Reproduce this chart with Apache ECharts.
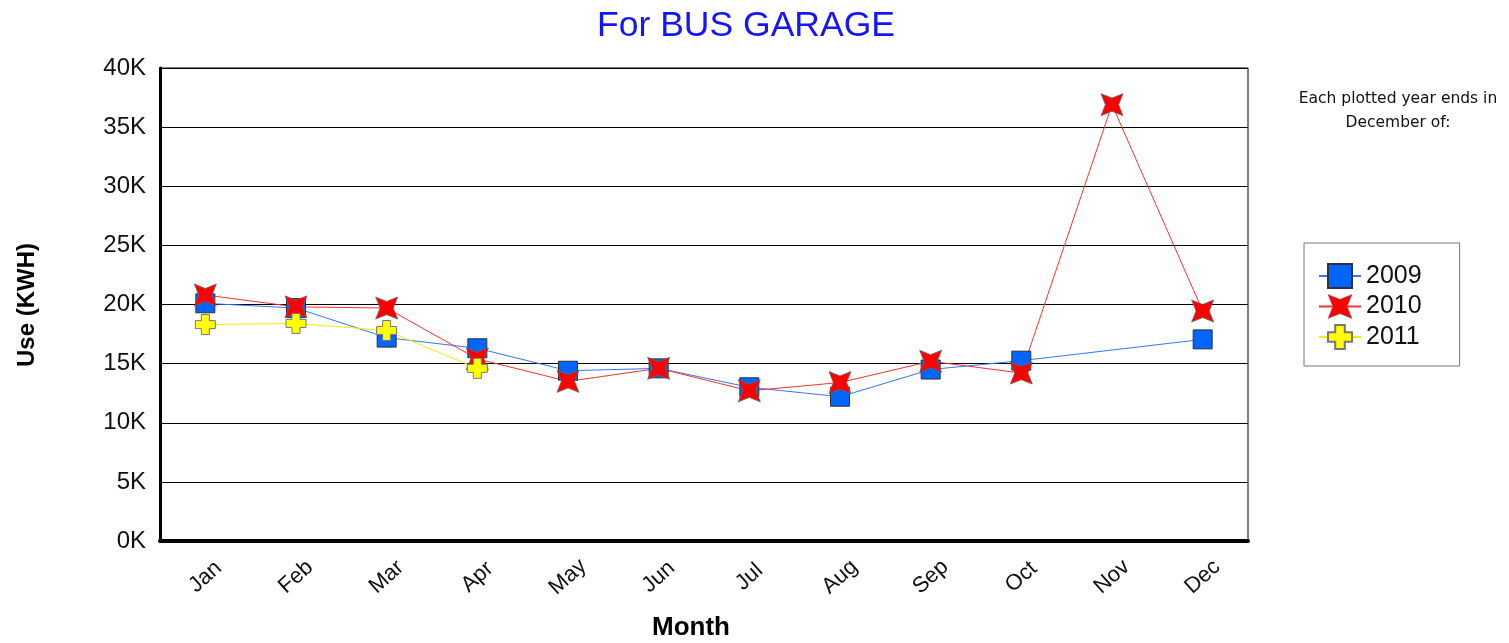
<!DOCTYPE html>
<html>
<head>
<meta charset="utf-8">
<script src="https://cdn.jsdelivr.net/npm/echarts@6/dist/echarts.min.js"></script>
<style>
html,body{margin:0;padding:0;background:#fff;}
#main{width:1509px;height:643px;}
</style>
</head>
<body>
<div id="main"></div>
<script>
var months = ['Jan','Feb','Mar','Apr','May','Jun','Jul','Aug','Sep','Oct','Nov','Dec'];
var yTicks = ['0K','5K','10K','15K','20K','25K','30K','35K','40K'];
var seriesNames = ['2009','2010','2011'];
var use2009 = [20100, 19700, 17200, 16300, 14400, 14600, 13000, 12200, 14500, 15250, null, 17050];
var use2010 = [20800, 19800, 19700, 15400, 13500, 14600, 12700, 13400, 15200, 14200, 36900, 19450];
var use2011 = [18300, 18400, 17800, 14600, null, null, null, null, null, null, null, null];

var STAR = 'path://M-10,-10 L0,-6 L10,-10 L6,0 L10,10 L0,6 L-10,10 L-6,0 Z';
var PLUS = 'path://M-4,-10 L4,-10 L4,-4 L10,-4 L10,4 L4,4 L4,10 L-4,10 L-4,4 L-10,4 L-10,-4 L-4,-4 Z';

var chart = echarts.init(document.getElementById('main'), null, {renderer:'canvas'});
var font = '"Liberation Sans", Arial, sans-serif';
chart.setOption({
  animation:false,
  backgroundColor:'#fff',
  title:{
    text:'For BUS GARAGE', left:741, top:3, textAlign:'center',
    textStyle:{color:'#1414ff', fontSize:35.5, fontWeight:'normal', fontFamily:font}
  },
  legend:{
    orient:'vertical', left:1304, top:243,
    padding:[20,38,16,14],
    borderColor:'#777', borderWidth:1,
    itemWidth:42, itemHeight:30, itemGap:5,
    textStyle:{fontSize:25, fontFamily:font, color:'#111'},
    data:[
      {name:seriesNames[0]},
      {name:seriesNames[1], itemStyle:{borderColor:'#777', borderWidth:0.6}},
      {name:seriesNames[2]}
    ]
  },
  grid:{left:160, right:261, top:68, bottom:102, show:true, borderColor:'#000', borderWidth:1},
  xAxis:{
    type:'category', data:months, boundaryGap:true,
    axisLine:{show:true, lineStyle:{color:'#000', width:4}},
    axisTick:{show:false},
    axisLabel:{rotate:42, align:'center', verticalAlign:'middle', margin:36, fontSize:22, fontFamily:font, color:'#111'},
    splitLine:{show:false}
  },
  yAxis:{
    type:'value', min:0, max:40000, interval:5000,
    axisLine:{show:true, lineStyle:{color:'#000', width:3}},
    axisTick:{show:false},
    axisLabel:{margin:14, fontSize:24, fontFamily:font, color:'#111',
      formatter:function(v){ return yTicks[Math.round(v/5000)]; }},
    splitLine:{show:true, lineStyle:{color:'#000', width:1}}
  },
  graphic:[
    {type:'text', x:27, y:305, rotation:Math.PI/2, style:{text:'Use (KWH)', fontSize:24, fontWeight:'bold', fontFamily:font, fill:'#000', align:'center', verticalAlign:'middle'}},
    {type:'text', x:691, y:628, style:{text:'Month', fontSize:26, fontWeight:'bold', fontFamily:font, fill:'#000', align:'center', verticalAlign:'middle'}},
    {type:'text', x:1398, y:111, style:{text:'Each plotted year ends in\nDecember of:', fontSize:15.5, lineHeight:24, fontFamily:'"DejaVu Sans", sans-serif', fill:'#111', align:'center', verticalAlign:'middle'}}
  ],
  series:[
    {name:seriesNames[0], type:'line', data:use2009, connectNulls:true,
     symbol:'rect', symbolSize:19,
     itemStyle:{color:'#0066ff', borderColor:'#333', borderWidth:1},
     lineStyle:{color:'#3377ff', width:1}},
    {name:seriesNames[1], type:'line', data:use2010, connectNulls:true,
     symbol:STAR, symbolSize:22,
     itemStyle:{color:'#ff0000', borderColor:'#666', borderWidth:0.8, borderJoin:'round'},
     lineStyle:{color:'#ff3030', width:1}},
    {name:seriesNames[2], type:'line', data:use2011,
     symbol:PLUS, symbolSize:20,
     itemStyle:{color:'#ffff00', borderColor:'#777', borderWidth:1},
     lineStyle:{color:'#f0f000', width:1}}
  ]
});
</script>
</body>
</html>
